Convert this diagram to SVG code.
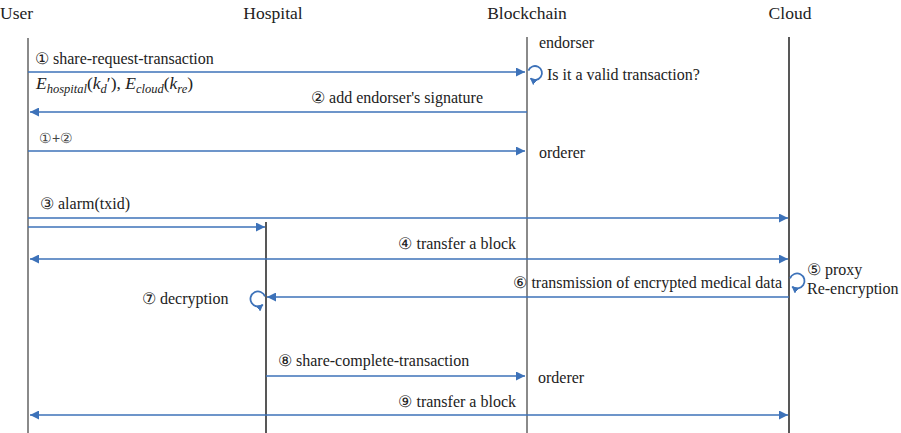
<svg xmlns="http://www.w3.org/2000/svg" width="901" height="433" viewBox="0 0 901 433">
  <style>
    text { font-family: "Liberation Serif", "Times New Roman", serif; fill: #222; }
    .head { font-family: "Liberation Serif", serif; font-size: 17.5px; }
    .lbl { font-family: "Liberation Serif", serif; font-size: 16px; }
    .sans { font-family: "Liberation Sans", Arial, sans-serif; font-size: 14px; fill: #444; }
    .math { font-family: "Liberation Serif", serif; font-size: 17.5px; font-style: italic; }
    .sub { font-size: 12.5px; }
    .life-gray { stroke: #8a8a8a; stroke-width: 2; }
    .life-black { stroke: #111; stroke-width: 1.4; }
    .msg { stroke: #3d72b9; stroke-width: 1.4; fill: none; }
    .loop { stroke: #3d72b9; stroke-width: 1.8; fill: none; }
  </style>
  <defs>
    <marker id="arrow" viewBox="0 0 10 10" refX="9" refY="5" markerWidth="7" markerHeight="7" markerUnits="userSpaceOnUse" orient="auto-start-reverse">
      <path d="M0,0 L10,5 L0,10 z" fill="#3d72b9"/>
    </marker>
    <marker id="arrowL" viewBox="0 0 10 10" refX="10" refY="5" markerWidth="9" markerHeight="9" markerUnits="userSpaceOnUse" orient="auto-start-reverse">
      <path d="M0,0 L10,5 L0,10 z" fill="#3d72b9"/>
    </marker>
  </defs>

  <!-- participants -->
  <g id="user">
    <text class="head" x="0" y="19">User</text>
    <line class="life-gray" x1="28" y1="38" x2="28" y2="433"/>
  </g>
  <g id="hospital">
    <text class="head" x="273" y="19" text-anchor="middle">Hospital</text>
    <line class="life-black" x1="266" y1="222" x2="266" y2="433"/>
  </g>
  <g id="blockchain">
    <text class="head" x="527" y="19" text-anchor="middle">Blockchain</text>
    <line class="life-gray" x1="527" y1="37" x2="527" y2="433"/>
    <text class="lbl" x="539" y="48">endorser</text>
    <text class="lbl" x="547" y="80">Is it a valid transaction?</text>
    <text class="lbl" x="539" y="158">orderer</text>
    <text class="lbl" x="538" y="383">orderer</text>
  </g>
  <g id="cloud">
    <text class="head" x="790" y="19" text-anchor="middle">Cloud</text>
    <line class="life-black" x1="789" y1="37" x2="789" y2="433"/>
    <text class="lbl" x="807" y="275">⑤ proxy</text>
    <text class="lbl" x="807" y="294">Re-encryption</text>
  </g>

  <!-- messages -->
  <g id="connectors">
    <line class="msg" x1="28" y1="72" x2="525" y2="72" marker-end="url(#arrowL)"/>
    <line class="msg" x1="527" y1="112" x2="30" y2="112" marker-end="url(#arrowL)"/>
    <line class="msg" x1="28" y1="151" x2="525" y2="151" marker-end="url(#arrowL)"/>
    <line class="msg" x1="28" y1="218" x2="788" y2="218" marker-end="url(#arrowL)"/>
    <line class="msg" x1="28" y1="227" x2="265" y2="227" marker-end="url(#arrowL)"/>
    <line class="msg" x1="30" y1="259" x2="788" y2="259" marker-start="url(#arrowL)" marker-end="url(#arrowL)"/>
    <line class="msg" x1="789" y1="297" x2="267" y2="297" marker-end="url(#arrowL)"/>
    <line class="msg" x1="266" y1="376" x2="525" y2="376" marker-end="url(#arrowL)"/>
    <line class="msg" x1="30" y1="415" x2="788" y2="415" marker-start="url(#arrowL)" marker-end="url(#arrowL)"/>

    <!-- self loops: nearly full circles ending back on the lifeline -->
    <path class="loop" d="M528.4,70.6 A7,7 0 1 1 530.5,78.4" marker-end="url(#arrow)"/>
    <path class="loop" d="M790,278.4 A7.5,7.5 0 1 1 792.2,286.7" marker-end="url(#arrow)"/>
    <path class="loop" d="M265,296.4 A7.5,7.5 0 1 0 262.8,304.7" marker-end="url(#arrow)"/>
  </g>

  <!-- message labels -->
  <g id="labels">
    <text class="lbl" x="35" y="64">① share-request-transaction</text>
    <text class="math" x="36" y="89">E<tspan class="sub" dy="3.5">hospital</tspan><tspan dy="-3.5" font-style="normal">(</tspan>k<tspan class="sub" dy="3.5">d</tspan><tspan dy="-3.5" font-style="normal">′), </tspan>E<tspan class="sub" dy="3.5">cloud</tspan><tspan dy="-3.5" font-style="normal">(</tspan>k<tspan class="sub" dy="3.5">re</tspan><tspan dy="-3.5" font-style="normal">)</tspan></text>
    <text class="lbl" x="483" y="103" text-anchor="end">② add endorser's signature</text>
    <text class="sans" x="39" y="143">①+②</text>
    <text class="lbl" x="40" y="209">③ alarm(txid)</text>
    <text class="lbl" x="516" y="249" text-anchor="end">④ transfer a block</text>
    <text class="lbl" x="782" y="288" text-anchor="end">⑥ transmission of encrypted medical data</text>
    <text class="lbl" x="142" y="304">⑦ decryption</text>
    <text class="lbl" x="278" y="366">⑧ share-complete-transaction</text>
    <text class="lbl" x="516" y="407" text-anchor="end">⑨ transfer a block</text>
  </g>
</svg>
